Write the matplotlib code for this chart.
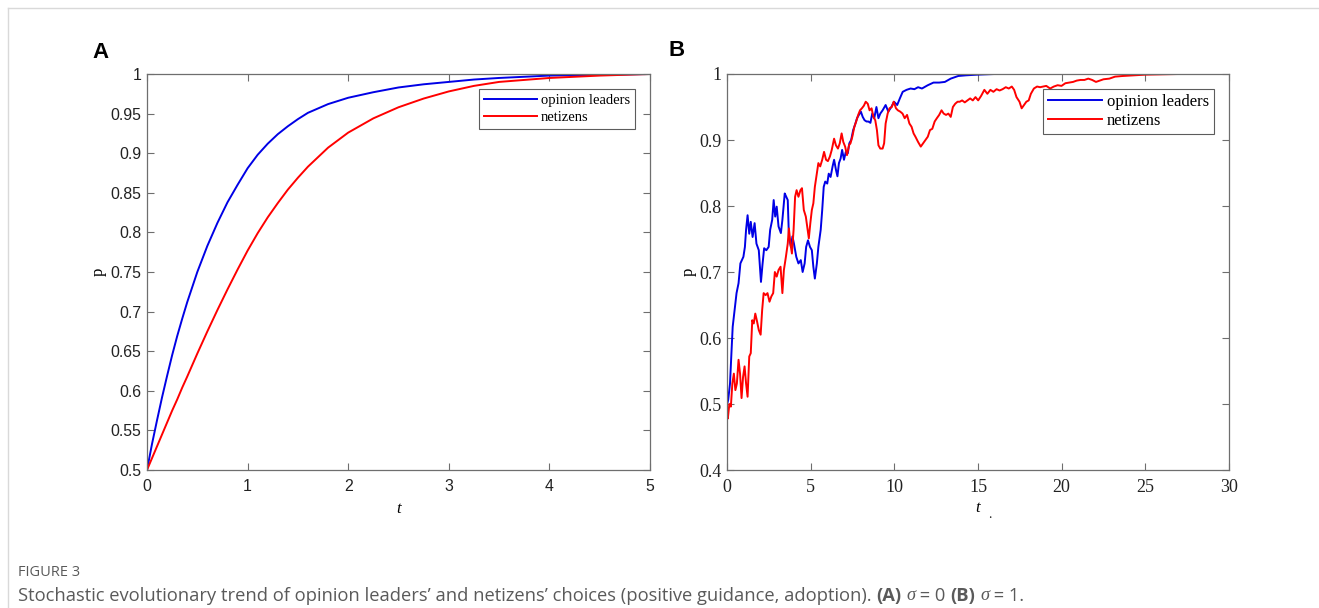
import matplotlib
matplotlib.use("Agg")
import matplotlib.pyplot as plt
from matplotlib.lines import Line2D

# Panel A: deterministic trend (sigma = 0)
t_a = [0, 0.05, 0.1, 0.15, 0.2, 0.25, 0.3, 0.35, 0.4, 0.5, 0.6, 0.7, 0.8, 0.9, 1.0, 1.1, 1.2, 1.3,
       1.4, 1.5, 1.6, 1.8, 2.0, 2.25, 2.5, 2.75, 3.0, 3.25, 3.5, 4.0, 4.5, 5.0]
p_a_leaders = [0.5, 0.533, 0.563, 0.592, 0.619, 0.645, 0.669, 0.691, 0.712, 0.75, 0.783, 0.812, 0.838,
               0.86, 0.881, 0.898, 0.912, 0.924, 0.934, 0.943, 0.951, 0.962, 0.970, 0.977, 0.983,
               0.987, 0.990, 0.993, 0.995, 0.998, 0.999, 1.0]
p_a_netizens = [0.5, 0.515, 0.53, 0.545, 0.56, 0.575, 0.589, 0.604, 0.618, 0.647, 0.675, 0.702, 0.728,
                0.753, 0.777, 0.799, 0.819, 0.837, 0.854, 0.869, 0.883, 0.907, 0.926, 0.944, 0.958,
                0.969, 0.978, 0.985, 0.990, 0.995, 0.998, 1.0]

# Panel B: stochastic trend (sigma = 1)
t_b_leaders = [0, 0.07, 0.18, 0.27, 0.34, 0.48, 0.57, 0.69, 0.8, 0.98, 1.07, 1.14, 1.23, 1.33, 1.42,
               1.53, 1.65, 1.76, 1.9, 2.03, 2.12, 2.22, 2.35, 2.49, 2.58, 2.7, 2.79, 2.88, 2.97, 3.08,
               3.22, 3.31, 3.45, 3.54, 3.63, 3.7, 3.82, 3.91, 4.0, 4.14, 4.27, 4.41, 4.52, 4.64, 4.73,
               4.84, 4.96, 5.07, 5.16, 5.25, 5.37, 5.46, 5.6, 5.69, 5.78, 5.87, 5.99, 6.08, 6.19, 6.31,
               6.4, 6.51, 6.6, 6.69, 6.79, 6.88, 6.99, 7.1, 7.22, 7.31, 7.42, 7.54, 7.65, 7.77, 7.88,
               8.0, 8.11, 8.22, 8.34, 8.45, 8.57, 8.68, 8.8, 8.93, 9.05, 9.16, 9.3, 9.48, 9.64, 9.82,
               9.98, 10.17, 10.33, 10.5, 10.73, 10.97, 11.2, 11.42, 11.65, 12.0, 12.34, 12.68, 13.02,
               13.37, 13.82, 14.28, 14.96, 16.0, 20.0, 25.0, 30.0]
p_b_leaders = [0.499, 0.506, 0.531, 0.58, 0.617, 0.648, 0.668, 0.683, 0.713, 0.723, 0.738, 0.764, 0.786,
               0.758, 0.776, 0.753, 0.774, 0.743, 0.733, 0.685, 0.711, 0.736, 0.733, 0.738, 0.764,
               0.779, 0.809, 0.784, 0.799, 0.769, 0.759, 0.779, 0.819, 0.814, 0.809, 0.754, 0.738,
               0.754, 0.743, 0.723, 0.713, 0.718, 0.700, 0.713, 0.738, 0.748, 0.738, 0.733, 0.708,
               0.690, 0.713, 0.738, 0.764, 0.794, 0.829, 0.837, 0.834, 0.849, 0.844, 0.86, 0.87, 0.855,
               0.845, 0.865, 0.872, 0.885, 0.87, 0.882, 0.88, 0.895, 0.9, 0.915, 0.923, 0.933, 0.938,
               0.943, 0.935, 0.93, 0.928, 0.928, 0.926, 0.94, 0.933, 0.95, 0.933, 0.94, 0.945, 0.953,
               0.943, 0.95, 0.958, 0.953, 0.963, 0.973, 0.976, 0.978, 0.977, 0.98, 0.978, 0.983, 0.987,
               0.987, 0.988, 0.993, 0.997, 0.998, 0.999, 1.0, 1.0, 1.0, 1.0]

t_b_netizens = [0, 0.05, 0.14, 0.23, 0.32, 0.41, 0.5, 0.59, 0.69, 0.78, 0.87, 0.96, 1.05, 1.14, 1.23,
                1.33, 1.42, 1.51, 1.6, 1.69, 1.78, 1.9, 2.01, 2.1, 2.19, 2.31, 2.42, 2.54, 2.65, 2.76,
                2.86, 2.97, 3.08, 3.2, 3.31, 3.4, 3.52, 3.63, 3.7, 3.79, 3.88, 3.98, 4.07, 4.16, 4.27,
                4.39, 4.48, 4.59, 4.71, 4.82, 4.89, 4.98, 5.07, 5.16, 5.25, 5.37, 5.46, 5.57, 5.69,
                5.8, 5.92, 6.03, 6.15, 6.26, 6.4, 6.51, 6.63, 6.74, 6.85, 6.95, 7.06, 7.17, 7.29, 7.38,
                7.49, 7.61, 7.72, 7.84, 7.95, 8.06, 8.18, 8.29, 8.41, 8.52, 8.64, 8.75, 8.86, 8.96,
                9.05, 9.16, 9.3, 9.39, 9.48, 9.6, 9.71, 9.85, 9.96, 10.1, 10.21, 10.35, 10.49, 10.62,
                10.76, 10.9, 11.03, 11.15, 11.26, 11.42, 11.58, 11.72, 11.86, 12.0, 12.13, 12.27,
                12.41, 12.54, 12.68, 12.82, 12.95, 13.09, 13.23, 13.37, 13.5, 13.64, 13.78, 13.91,
                14.05, 14.21, 14.37, 14.53, 14.69, 14.85, 15.01, 15.19, 15.38, 15.56, 15.74, 15.92,
                16.11, 16.29, 16.47, 16.66, 16.84, 17.02, 17.16, 17.3, 17.48, 17.61, 17.75, 17.89,
                18.03, 18.16, 18.34, 18.53, 18.71, 18.9, 19.08, 19.31, 19.53, 19.76, 19.99, 20.22,
                20.45, 20.68, 20.9, 21.13, 21.36, 21.59, 21.82, 22.05, 22.27, 22.5, 22.85, 23.19,
                23.65, 24.33, 25.0, 27.0, 30.0]
p_b_netizens = [0.49, 0.478, 0.50, 0.496, 0.531, 0.546, 0.521, 0.531, 0.567, 0.546, 0.509, 0.541, 0.557,
                0.531, 0.511, 0.572, 0.577, 0.627, 0.622, 0.637, 0.627, 0.612, 0.605, 0.642, 0.668,
                0.665, 0.668, 0.655, 0.663, 0.668, 0.70, 0.693, 0.703, 0.708, 0.668, 0.703, 0.723,
                0.743, 0.766, 0.743, 0.728, 0.764, 0.814, 0.824, 0.814, 0.824, 0.827, 0.794, 0.784,
                0.764, 0.751, 0.774, 0.794, 0.804, 0.829, 0.849, 0.865, 0.86, 0.87, 0.882, 0.87, 0.868,
                0.875, 0.885, 0.902, 0.892, 0.887, 0.895, 0.91, 0.897, 0.89, 0.877, 0.892, 0.895, 0.905,
                0.92, 0.928, 0.938, 0.945, 0.948, 0.952, 0.958, 0.955, 0.945, 0.948, 0.935, 0.93, 0.915,
                0.892, 0.887, 0.887, 0.895, 0.925, 0.94, 0.948, 0.95, 0.958, 0.948, 0.945, 0.943, 0.94,
                0.933, 0.938, 0.925, 0.92, 0.91, 0.905, 0.897, 0.89, 0.895, 0.9, 0.905, 0.915, 0.917,
                0.928, 0.933, 0.938, 0.945, 0.94, 0.938, 0.94, 0.935, 0.95, 0.955, 0.958, 0.958, 0.96,
                0.957, 0.96, 0.963, 0.96, 0.965, 0.96, 0.967, 0.976, 0.97, 0.976, 0.973, 0.977, 0.975,
                0.977, 0.98, 0.978, 0.981, 0.976, 0.965, 0.958, 0.948, 0.953, 0.958, 0.96, 0.97, 0.978,
                0.981, 0.98, 0.981, 0.982, 0.978, 0.981, 0.983, 0.982, 0.986, 0.987, 0.988, 0.99, 0.991,
                0.991, 0.993, 0.991, 0.988, 0.99, 0.992, 0.993, 0.996, 0.997, 0.998, 0.999, 1.0, 1.0]

series_labels = ["opinion leaders", "netizens"]
line_colors = ["#0000e6", "#ff0000"]

SERIF = ["Liberation Serif", "DejaVu Serif"]
SANS = ["Liberation Sans", "DejaVu Sans"]
CAP_FONT = ["Open Sans", "DejaVu Sans"]
AX_GRAY = "#6e6e6e"

W, H = 1319, 608
fig = plt.figure(figsize=(W / 100, H / 100), dpi=100, facecolor="white")

# page border lines (top and left)
fig.add_artist(Line2D([8 / W, 1], [1 - 8 / H, 1 - 8 / H], color="#d9d9d9", lw=1))
fig.add_artist(Line2D([8 / W, 8 / W], [0, 1 - 8 / H], color="#d9d9d9", lw=1))

ax_a = fig.add_axes([147 / W, 1 - 470 / H, 503 / W, 396 / H])
ax_b = fig.add_axes([727 / W, 1 - 470 / H, 502 / W, 396 / H])


def style_axes(ax, tick_family, tick_size, pad):
    for sp in ax.spines.values():
        sp.set_color(AX_GRAY)
        sp.set_linewidth(0.9)
    ax.tick_params(direction="in", top=True, right=True, length=5, width=0.8,
                   color=AX_GRAY, labelsize=tick_size, labelcolor="#222222")
    ax.tick_params(axis="x", pad=pad)
    ax.tick_params(axis="y", pad=4)
    for lab in ax.get_xticklabels() + ax.get_yticklabels():
        lab.set_family(tick_family)


# Panel A
ax_a.plot(t_a, p_a_leaders, color=line_colors[0], lw=1.4, label=series_labels[0])
ax_a.plot(t_a, p_a_netizens, color=line_colors[1], lw=1.4, label=series_labels[1])
ax_a.set_xlim(0, 5)
ax_a.set_ylim(0.5, 1)
ax_a.set_xticks([0, 1, 2, 3, 4, 5])
ax_a.set_yticks([0.5, 0.55, 0.6, 0.65, 0.7, 0.75, 0.8, 0.85, 0.9, 0.95, 1])
ax_a.set_yticklabels(["0.5", "0.55", "0.6", "0.65", "0.7", "0.75", "0.8", "0.85", "0.9", "0.95", "1"])
style_axes(ax_a, SANS, 11.4, 6.5)
ax_a.set_xlabel("t", family=SERIF, style="italic", fontsize=12, labelpad=5)
ax_a.set_ylabel("p", family=SERIF, fontsize=12, labelpad=3)
leg_a = ax_a.legend(loc="upper right", bbox_to_anchor=(0.971, 0.962), prop={"family": SERIF, "size": 10.5},
                    frameon=True, fancybox=False, edgecolor="#333333", handlelength=3.6,
                    handletextpad=0.3, borderpad=0.35, labelspacing=0.25, borderaxespad=0)
leg_a.get_frame().set_linewidth(0.8)

# Panel B
ax_b.plot(t_b_leaders, p_b_leaders, color=line_colors[0], lw=1.4, label=series_labels[0])
ax_b.plot(t_b_netizens, p_b_netizens, color=line_colors[1], lw=1.4, label=series_labels[1])
ax_b.set_xlim(0, 30)
ax_b.set_ylim(0.4, 1)
ax_b.set_xticks([0, 5, 10, 15, 20, 25, 30])
ax_b.set_yticks([0.4, 0.5, 0.6, 0.7, 0.8, 0.9, 1])
ax_b.set_yticklabels(["0.4", "0.5", "0.6", "0.7", "0.8", "0.9", "1"])
style_axes(ax_b, SERIF, 13, 6.5)
ax_b.set_xlabel("t", family=SERIF, style="italic", fontsize=12, labelpad=3)
ax_b.set_ylabel("p", family=SERIF, fontsize=12, labelpad=2)
leg_b = ax_b.legend(loc="upper right", bbox_to_anchor=(0.97, 0.962), prop={"family": SERIF, "size": 12},
                    frameon=True, fancybox=False, edgecolor="#333333", handlelength=3.2,
                    handletextpad=0.3, borderpad=0.3, labelspacing=0.15, borderaxespad=0)
leg_b.get_frame().set_linewidth(0.8)
# small stray mark next to the B x-label in the source
fig.text(988 / W, 1 - 514 / H, ".", family=SERIF, fontsize=10, ha="left", va="center", color="#222222")

# panel letters
fig.text(92 / W, 1 - 52 / H, "A", family=SANS, weight="bold", fontsize=16, va="center", ha="left")
fig.text(668 / W, 1 - 51 / H, "B", family=SANS, weight="bold", fontsize=16, va="center", ha="left")

# caption
CAP_GRAY = "#5a5a5a"
fig.text(18 / W, 1 - 572 / H, "FIGURE 3", family=CAP_FONT, fontsize=10.5, color=CAP_GRAY, va="center")

pieces = [
    ("Stochastic evolutionary trend of opinion leaders\u2019 and netizens\u2019 choices (positive guidance, adoption). ",
     dict(family=CAP_FONT)),
    ("(A)", dict(family=CAP_FONT, weight="bold")),
    (" ", dict(family=CAP_FONT)),
    ("\u03c3", dict(family=SERIF, style="italic")),
    (" = 0 ", dict(family=CAP_FONT)),
    ("(B)", dict(family=CAP_FONT, weight="bold")),
    (" ", dict(family=CAP_FONT)),
    ("\u03c3", dict(family=SERIF, style="italic")),
    (" = 1.", dict(family=CAP_FONT)),
]
fig.canvas.draw()
renderer = fig.canvas.get_renderer()
x_px = 18
y_cap = 1 - 596 / H
for txt, kw in pieces:
    t = fig.text(x_px / W, y_cap, txt, fontsize=13.2, color=CAP_GRAY, va="center", ha="left", **kw)
    bb = t.get_window_extent(renderer=renderer)
    x_px += bb.width

fig.savefig("out.png", dpi=100, facecolor="white")
